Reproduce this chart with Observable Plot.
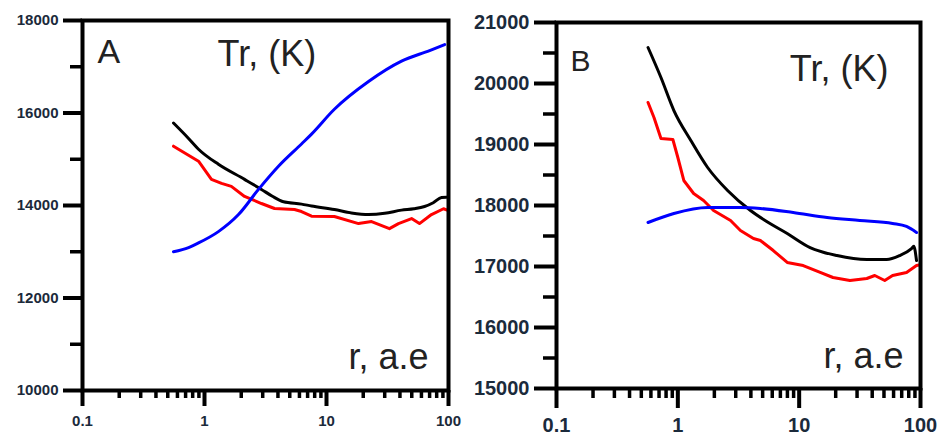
<!DOCTYPE html>
<html>
<head>
<meta charset="utf-8">
<script src="https://cdn.jsdelivr.net/npm/d3@7"></script>
<script src="https://cdn.jsdelivr.net/npm/@observablehq/plot@0.6"></script>
<style>
  html, body { margin: 0; padding: 0; background: #fff; }
  #wrap { display: flex; flex-direction: row; width: 940px; height: 434px; }
  #pa, #pb { width: 470px; height: 434px; flex: 0 0 470px; }
</style>
</head>
<body>
<div id="wrap"><div id="pa"></div><div id="pb"></div></div>
<script>
// ---------- Panel A data (r in a.e., Tr in K) ----------
const aBlackR = [0.557, 0.74, 0.893, 1.30, 2.13, 2.93, 3.6, 4.44, 6.24, 7.54, 11.6, 16, 22.1, 30, 41.2, 52, 63.6, 75, 87.7, 96.3];
const aBlackT = [15783, 15450, 15217, 14891, 14565, 14348, 14200, 14080, 14030, 13990, 13913, 13840, 13804, 13830, 13900, 13930, 13978, 14060, 14174, 14180];
const aRedR = [0.557, 0.893, 1.14, 1.38, 1.66, 2.13, 2.93, 3.75, 5.47, 6.24, 7.54, 11.6, 18.3, 23.4, 32.8, 38.9, 49.8, 57.8, 72.5, 91, 100];
const aRedT = [15283, 14957, 14565, 14478, 14413, 14196, 14043, 13935, 13913, 13870, 13770, 13761, 13609, 13652, 13500, 13609, 13717, 13609, 13804, 13930, 13891];
const aBlueR = [0.557, 0.74, 0.893, 1.30, 1.90, 2.77, 4.04, 6.24, 7.54, 11.6, 22.1, 41.2, 70, 93];
const aBlueT = [13000, 13090, 13190, 13435, 13804, 14348, 14848, 15330, 15543, 16080, 16680, 17120, 17350, 17480];

// ---------- Panel B data ----------
const bBlackR = [0.568, 0.726, 0.928, 1.28, 1.76, 2.57, 3.97, 5.57, 7.97, 12.3, 20.5, 36.1, 52.6, 67.3, 84.3, 88, 92.7];
const bBlackT = [20590, 20098, 19557, 19066, 18623, 18246, 17918, 17721, 17541, 17311, 17180, 17115, 17115, 17180, 17295, 17330, 17098];
const bRedR = [0.568, 0.636, 0.726, 0.910, 1.0, 1.12, 1.35, 1.63, 1.97, 2.72, 3.28, 4.20, 4.79, 6.12, 7.97, 10.8, 14.9, 19.0, 26.2, 36.1, 42.0, 50.7, 58.9, 76.7, 92.7, 100];
const bRedT = [19689, 19443, 19098, 19082, 18787, 18410, 18197, 18082, 17918, 17754, 17590, 17459, 17426, 17262, 17066, 17016, 16902, 16820, 16770, 16803, 16852, 16770, 16852, 16902, 17016, 17030];
const bBlueR = [0.568, 0.928, 1.76, 3.28, 4.79, 8.93, 17.0, 31.6, 58.9, 76.7, 92.7];
const bBlueT = [17721, 17869, 17967, 17967, 17951, 17885, 17803, 17754, 17705, 17656, 17557];

// ---------- Tick values ----------
const xMajor = [0.1, 1, 10, 100];
const xMinor = [0.2, 0.3, 0.4, 0.5, 0.6, 0.7, 0.8, 0.9, 2, 3, 4, 5, 6, 7, 8, 9, 20, 30, 40, 50, 60, 70, 80, 90];
const aYMajor = [10000, 12000, 14000, 16000, 18000];
const aYMinor = [11000, 13000, 15000, 17000];
const bYMajor = [15000, 16000, 17000, 18000, 19000, 20000, 21000];
const bYMinor = [15500, 16500, 17500, 18500, 19500, 20500];

const FONT = "Liberation Sans, Arial, Helvetica, sans-serif";
const LABEL_COLOR = "#1b2a3b";
const W = 470, H = 434;

function toRows(rs, ts) { return rs.map((r, i) => ({r, t: ts[i]})); }

function panel(cfg) {
  const black = toRows(cfg.blackR, cfg.blackT);
  const red = toRows(cfg.redR, cfg.redT);
  const blue = toRows(cfg.blueR, cfg.blueT);
  const m = cfg.m;
  return Plot.plot({
    width: W,
    height: H,
    marginLeft: m.left, marginRight: m.right, marginTop: m.top, marginBottom: m.bottom,
    x: {type: "log", domain: [0.1, 100]},
    y: {domain: cfg.yDomain},
    marks: [
      Plot.line(red, {x: "r", y: "t", stroke: "#ff0000", strokeWidth: 3, curve: "linear"}),
      Plot.line(black, {x: "r", y: "t", stroke: "#000000", strokeWidth: 3, curve: "monotone-x"}),
      Plot.line(blue, {x: "r", y: "t", stroke: "#0000ff", strokeWidth: 3, curve: "monotone-x"}),
      Plot.frame({stroke: "#000", strokeWidth: 4}),
      // minor ticks (no labels)
      Plot.axisY({ticks: cfg.yMinor, tickSize: cfg.yMinorSize, stroke: "#000", strokeWidth: 3.5,
        fill: "none", label: null}),
      Plot.axisX({ticks: xMinor, tickSize: cfg.xMinorSize, stroke: "#000", strokeWidth: 3.5,
        fill: "none", label: null}),
      // major ticks with labels
      Plot.axisY({ticks: cfg.yMajor, tickSize: cfg.yMajorSize, tickPadding: 5, stroke: "#000", strokeWidth: 4,
        fill: LABEL_COLOR, tickFormat: d => String(d), label: null,
        fontSize: cfg.tickFont, fontWeight: "bold", fontFamily: FONT}),
      Plot.axisX({ticks: xMajor, tickSize: cfg.xMajorSize, tickPadding: cfg.xPad, stroke: "#000", strokeWidth: 4,
        fill: LABEL_COLOR, tickFormat: d => String(d), label: null,
        fontSize: cfg.tickFont, fontWeight: "bold", fontFamily: FONT}),
      // annotations
      Plot.text([cfg.letter], {text: d => d, frameAnchor: "top-left", textAnchor: "start", lineAnchor: "bottom",
        dx: cfg.letterPos[0], dy: cfg.letterPos[1], fontSize: cfg.letterFont, fill: "#222", fontFamily: FONT}),
      Plot.text(["Tr, (K)"], {text: d => d, frameAnchor: cfg.trAnchor, textAnchor: cfg.trTextAnchor, lineAnchor: "bottom",
        dx: cfg.trPos[0], dy: cfg.trPos[1], fontSize: 36, fill: "#222", fontFamily: FONT}),
      Plot.text(["r, a.e"], {text: d => d, frameAnchor: "bottom-right", textAnchor: "end", lineAnchor: "bottom",
        dx: cfg.rPos[0], dy: cfg.rPos[1], fontSize: 36, fill: "#222", fontFamily: FONT})
    ]
  });
}

document.getElementById("pa").append(panel({
  blackR: aBlackR, blackT: aBlackT, redR: aRedR, redT: aRedT, blueR: aBlueR, blueT: aBlueT,
  m: {left: 82, right: 22, top: 20, bottom: 44},
  yDomain: [10000, 18000], yMajor: aYMajor, yMinor: aYMinor,
  yMajorSize: 19, yMinorSize: 12, xMajorSize: 16, xMinorSize: 8, xPad: 9, tickFont: 15,
  letter: "A", letterPos: [15, 42], letterFont: 34,
  trAnchor: "top-left", trTextAnchor: "start", trPos: [135, 45],
  rPos: [-20, -22]
}));

document.getElementById("pb").append(panel({
  blackR: bBlackR, blackT: bBlackT, redR: bRedR, redT: bRedT, blueR: bBlueR, blueT: bBlueT,
  m: {left: 86, right: 20, top: 22, bottom: 46},
  yDomain: [15000, 21000], yMajor: bYMajor, yMinor: bYMinor,
  yMajorSize: 22, yMinorSize: 13, xMajorSize: 20, xMinorSize: 10, xPad: 9, tickFont: 20,
  letter: "B", letterPos: [14, 48], letterFont: 30,
  trAnchor: "top-right", trTextAnchor: "end", trPos: [-32, 58],
  rPos: [-17, -21]
}));
</script>
</body>
</html>
